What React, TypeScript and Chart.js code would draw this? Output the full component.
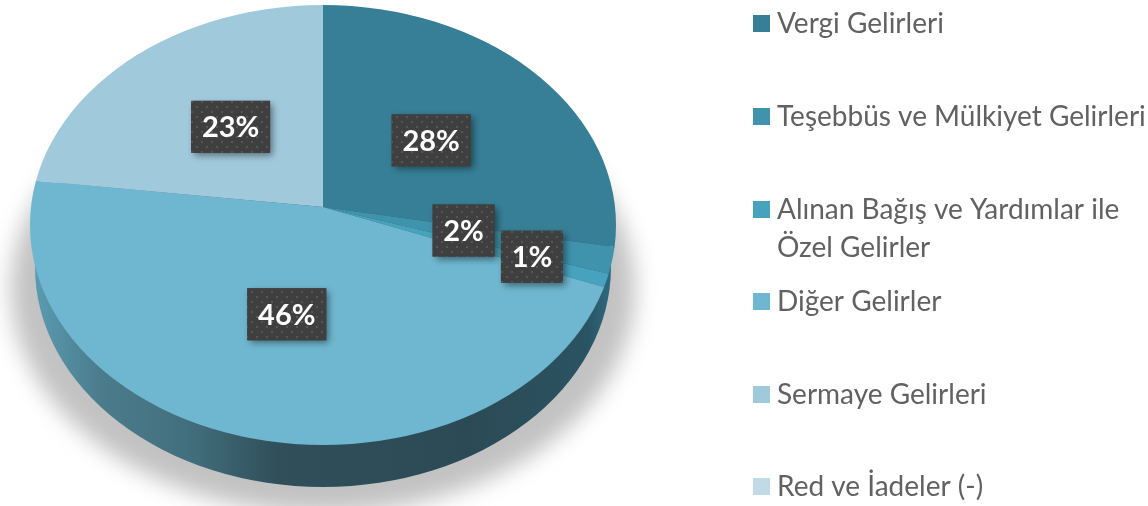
import React, { useEffect, useRef } from "react";
import { Chart, registerables } from "chart.js";

Chart.register(...registerables);

const categories = [
  "Vergi Gelirleri",
  "Teşebbüs ve Mülkiyet Gelirleri",
  "Alınan Bağış ve Yardımlar ile Özel Gelirler",
  "Diğer Gelirler",
  "Sermaye Gelirleri",
  "Red ve İadeler (-)",
];
const shares = [28, 2, 1, 46, 23, 0];
const sliceColors = ["#367f97", "#3f93ac", "#47a3bd", "#6fb7d0", "#a1c9dc", "#c0dbe6"];
// shift of each percentage box from the middle of its slice
const labelShift = [
  [-49, 27],
  [-57, -13],
  [17, 0],
  [14.5, -35],
  [42.5, 30],
  [0, 0],
];

const W = 1148;
const H = 506;
const FACE = { cx: 323, cy: 225, rx: 293, ry: 220 };
const BASE_RX = 288;
const APEX = { x: 323, y: 207 };
const TILT = 0.72;
const REACH = 340;
const DEPTH = 42;

function makeDots(ctx: CanvasRenderingContext2D) {
  const c = document.createElement("canvas");
  c.width = 10;
  c.height = 10;
  const p = c.getContext("2d")!;
  p.fillStyle = "#3f3f3f";
  p.fillRect(0, 0, 10, 10);
  p.fillStyle = "#565656";
  p.fillRect(1, 1, 2, 2);
  p.fillRect(6, 6, 2, 2);
  return ctx.createPattern(c, "repeat")!;
}

function wrap(ctx: CanvasRenderingContext2D, text: string, max: number) {
  const lines: string[] = [];
  let cur = "";
  for (const w of text.split(" ")) {
    const t = cur ? cur + " " + w : w;
    if (ctx.measureText(t).width > max && cur) {
      lines.push(cur);
      cur = w;
    } else cur = t;
  }
  lines.push(cur);
  return lines;
}

const piePlugin = {
  id: "tiltedPie",
  beforeDatasetsDraw(chart: any) {
    const ctx: CanvasRenderingContext2D = chart.ctx;
    const { cx, cy, rx, ry } = FACE;

    // ground shadow
    ctx.save();
    ctx.filter = "blur(11px)";
    ctx.fillStyle = "#c2c2c2";
    ctx.beginPath();
    ctx.ellipse(cx, cy + 64, rx + 19, ry + 4, 0, 0, Math.PI * 2);
    ctx.fill();
    ctx.restore();

    // side wall
    const g = ctx.createLinearGradient(cx - rx, 0, cx + rx, 0);
    g.addColorStop(0, "#5b9db4");
    g.addColorStop(0.12, "#4b7c8c");
    g.addColorStop(0.27, "#426f7d");
    g.addColorStop(0.42, "#304f5b");
    g.addColorStop(0.75, "#2c4a56");
    g.addColorStop(0.95, "#2a5362");
    g.addColorStop(1, "#2e6f85");
    ctx.fillStyle = g;
    ctx.beginPath();
    ctx.ellipse(cx, cy + DEPTH, BASE_RX, ry, 0, 0, Math.PI * 2);
    ctx.fill();

    // top face: the library's arcs, tilted and clipped to the ellipse
    const el = chart.getDatasetMeta(0).data[0];
    const s = REACH / el.outerRadius;
    ctx.save();
    ctx.beginPath();
    ctx.ellipse(cx, cy, rx, ry, 0, 0, Math.PI * 2);
    ctx.clip();
    ctx.translate(APEX.x, APEX.y);
    ctx.scale(s, s * TILT);
    ctx.translate(-el.x, -el.y);
  },
  afterDatasetsDraw(chart: any) {
    const ctx: CanvasRenderingContext2D = chart.ctx;
    ctx.restore();

    // percentage boxes
    const dots = makeDots(ctx);
    const total = shares.reduce((a, b) => a + b, 0);
    chart.getDatasetMeta(0).data.forEach((el: any, i: number) => {
      if (!shares[i]) return;
      const mid = (el.startAngle + el.endAngle) / 2;
      const x = APEX.x + Math.cos(mid) * REACH * 0.6 + labelShift[i][0];
      const y = APEX.y + Math.sin(mid) * REACH * 0.6 * TILT + labelShift[i][1];
      const text = Math.round((shares[i] / total) * 100) + "%";
      ctx.font = "bold 29px Lato";
      const w = ctx.measureText(text).width + 20 > 70 ? 79 : 62;
      const h = 52;
      ctx.save();
      ctx.shadowColor = "rgba(0,0,0,0.45)";
      ctx.shadowBlur = 7;
      ctx.shadowOffsetX = 3;
      ctx.shadowOffsetY = 3;
      ctx.fillStyle = "#3f3f3f";
      ctx.fillRect(x - w / 2, y - h / 2, w, h);
      ctx.restore();
      ctx.fillStyle = dots;
      ctx.fillRect(x - w / 2, y - h / 2, w, h);
      ctx.fillStyle = "#ffffff";
      ctx.textAlign = "center";
      ctx.textBaseline = "middle";
      ctx.fillText(text, x, y + 1);
    });

    // legend
    ctx.textAlign = "left";
    ctx.textBaseline = "middle";
    ctx.font = "28px Lato";
    categories.forEach((name, i) => {
      const top = Math.round(15.3 + i * 92.6);
      ctx.fillStyle = sliceColors[i];
      ctx.fillRect(753, top, 17, 17);
      ctx.fillStyle = "#616161";
      wrap(ctx, name, 371).forEach((line, j) => {
        ctx.fillText(line, 777, top + 9 + j * 38);
      });
    });
  },
};

export default function App() {
  const ref = useRef<HTMLCanvasElement>(null);
  useEffect(() => {
    const chart = new Chart(ref.current!, {
      type: "pie",
      data: {
        labels: categories,
        datasets: [
          {
            data: shares,
            backgroundColor: sliceColors,
            borderWidth: 0,
            clip: false,
          } as any,
        ],
      },
      options: {
        responsive: false,
        animation: false,
        events: [],
        layout: { padding: 0 },
        plugins: { legend: { display: false }, tooltip: { enabled: false } },
      },
      plugins: [piePlugin],
    });
    return () => chart.destroy();
  }, []);
  return (
    <div style={{ position: "absolute", left: 0, top: 0, width: W, height: H, background: "#fff" }}>
      <canvas ref={ref} width={W} height={H} style={{ display: "block" }} />
    </div>
  );
}
